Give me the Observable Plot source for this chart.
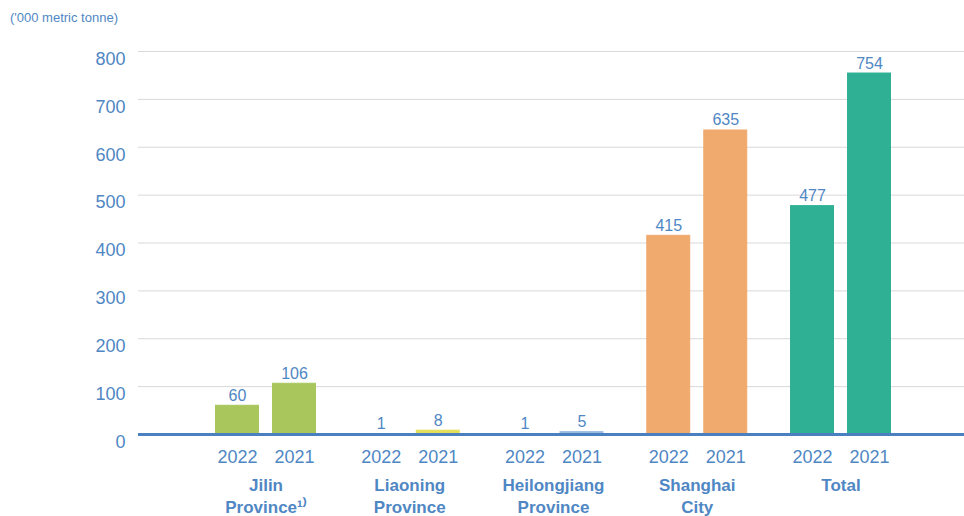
<!DOCTYPE html>
<html>
<head>
<meta charset="utf-8">
<script src="https://cdn.jsdelivr.net/npm/d3@7"></script>
<script src="https://cdn.jsdelivr.net/npm/@observablehq/plot@0.6"></script>
<style>
  html, body { margin: 0; padding: 0; background: #fff; }
  #wrap { position: relative; width: 964px; height: 516px; }
  #unit {
    position: absolute; left: 10px; top: 10px;
    font: 13px "Liberation Sans", Arial, Helvetica, sans-serif;
    color: #4f87c4;
  }
</style>
</head>
<body>
<div id="wrap">
  <div id="unit">('000 metric tonne)</div>
  <div id="chart"></div>
</div>
<script>
// Regions, in display order, with two-line labels
const regions = ["Jilin", "Liaoning", "Heilongjiang", "Shanghai", "Total"];
const regionLabels = ["Jilin\nProvince¹⁾", "Liaoning\nProvince", "Heilongjiang\nProvince", "Shanghai\nCity", "Total"];
const years = ["2022", "2021"];
// Volumes in thousand metric tonnes
const values2022 = [60, 1, 1, 415, 477];
const values2021 = [106, 8, 5, 635, 754];
const colors2022 = ["#a8c65c", "#ece98e", "#a9c3e2", "#f0aa6e", "#2fb094"];
const colors2021 = ["#a8c65c", "#e4de5a", "#9bbbe0", "#f0aa6e", "#2fb094"];
const yTicks = [0, 100, 200, 300, 400, 500, 600, 700, 800];

const rows = [];
regions.forEach((r, i) => {
  rows.push({region: r, year: years[0], value: values2022[i], color: colors2022[i]});
  rows.push({region: r, year: years[1], value: values2021[i], color: colors2021[i]});
});
const first = rows.filter(d => d.year === years[0]);
const second = rows.filter(d => d.year === years[1]);

const textColor = "#4f87c4";
const font = "'Liberation Sans', Arial, Helvetica, sans-serif";

const chart = Plot.plot({
  width: 964,
  height: 516,
  marginLeft: 138,
  marginRight: 0,
  marginTop: 51,
  marginBottom: 82,
  style: {fontFamily: font, color: textColor, background: "#fff"},
  x: {domain: regions, range: [193.6, 912.4], padding: 0, round: false, axis: null},
  y: {domain: [0, 800], axis: null},
  color: {type: "identity"},
  marks: [
    Plot.ruleY(yTicks.filter(t => t > 0), {stroke: "#d9d9d9", strokeWidth: 1}),
    // 2022 bar sits left of the region centre, 2021 bar to the right;
    // a hairline stroke keeps the near-zero bars visible
    Plot.barY(first, {x: "region", y: "value", fill: "color", stroke: "color", strokeWidth: 1,
      insetLeft: 21.9, insetRight: 78.9}),
    Plot.barY(second, {x: "region", y: "value", fill: "color", stroke: "color", strokeWidth: 1,
      insetLeft: 78.9, insetRight: 21.9}),
    Plot.text(first, {x: "region", y: "value", text: d => String(d.value), dx: -28.5, dy: -5,
      textAnchor: "middle", lineAnchor: "bottom", fill: textColor, fontSize: 16}),
    Plot.text(second, {x: "region", y: "value", text: d => String(d.value), dx: 28.5, dy: -5,
      textAnchor: "middle", lineAnchor: "bottom", fill: textColor, fontSize: 16}),
    Plot.ruleY([0], {stroke: "#4a80bf", strokeWidth: 3}),
    // year labels under each bar
    Plot.text(first, {x: "region", y: 0, text: "year", dx: -28.5, dy: 23,
      lineAnchor: "middle", fill: textColor, fontSize: 18}),
    Plot.text(second, {x: "region", y: 0, text: "year", dx: 28.5, dy: 23,
      lineAnchor: "middle", fill: textColor, fontSize: 18}),
    // region names
    Plot.text(regions, {x: d => d, y: 0, text: (d, i) => regionLabels[i], dy: 41,
      lineAnchor: "top", lineHeight: 1.3, fill: textColor, fontSize: 17, fontWeight: "bold"}),
    // y tick labels
    Plot.axisY(yTicks, {tickSize: 0, tickPadding: 13, dy: 7.5, fontSize: 18, fill: textColor, label: null})
  ]
});
document.getElementById("chart").appendChild(chart);
</script>
</body>
</html>
